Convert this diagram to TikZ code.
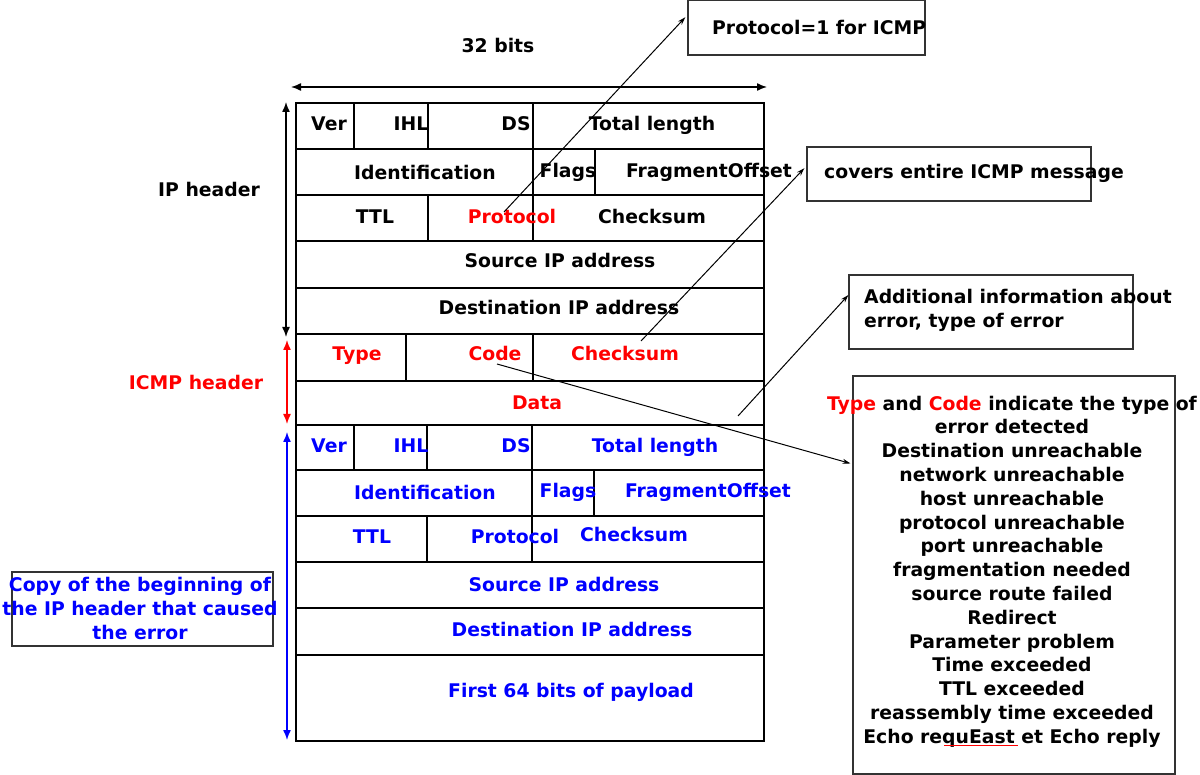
\documentclass[tikz,border=0pt]{standalone}
\usepackage{fontspec}
\setmainfont{DejaVu Sans}
\usetikzlibrary{arrows.meta}

\newcommand{\lblfont}{\fontsize{18.8}{23.8}\selectfont\bfseries}

\tikzset{
  cell/.style={font=\lblfont, inner sep=0pt, text height=13.7pt, text depth=0pt},
  note/.style={font=\lblfont, inner sep=0pt, align=center},
  notebox/.style={draw=black!80, line width=1.2pt, inner sep=0pt},
  grid/.style={line width=1.8pt, line cap=rect},
  divider/.style={line width=1.4pt},
  pointer/.style={line width=1pt, -{Stealth[length=8pt,width=5pt]}},
  span/.style={line width=1.4pt, {Latex[length=10pt,width=8pt]}-{Latex[length=10pt,width=8pt]}}
}

\begin{document}
\begin{tikzpicture}[x=1pt,y=-1pt]
\useasboundingbox (0,0) rectangle (1200,775);

% table
\foreach \yy in {149,195,241,288,334,381,425,470,516,562,608,655}
  \draw[grid] (296,\yy) -- (764,\yy);
\draw[grid] (296,103) rectangle (764,741);
\foreach \xx/\ya/\yb in {354/103/149, 428/103/149, 533/103/149,
    533/149/195, 595/149/195, 428/195/241, 533/195/241,
    406/334/381, 533/334/381,
    354/425/470, 427/425/470, 532/425/470,
    532/470/516, 594/470/516, 427/516/562, 532/516/562}
  \draw[divider] (\xx,\ya) -- (\xx,\yb);

% IP header
\node[cell] (ver) at (329,124) {Ver};
\node[cell] (ihl) at (411,124) {IHL};
\node[cell] (ds) at (516,124) {DS};
\node[cell] (totlen) at (652,124) {Total length};
\node[cell] (ident) at (425,173) {Identification};
\node[cell] (flags) at (568,171) {Flags};
\node[cell] (fragoff) at (709,171) {FragmentOffset};
\node[cell] (ttl) at (375,217) {TTL};
\node[cell, red] (proto) at (512,217) {Protocol};
\node[cell] (hcsum) at (652,217) {Checksum};
\node[cell] (srcip) at (560,261) {Source IP address};
\node[cell] (dstip) at (559,308) {Destination IP address};

% ICMP header
\node[cell, red] (type) at (357,354) {Type};
\node[cell, red] (code) at (495,354) {Code};
\node[cell, red] (csum) at (625,354) {Checksum};
\node[cell, red] (data) at (537,403) {Data};

% copy of the original IP header
\node[cell, blue] (cver) at (329,446) {Ver};
\node[cell, blue] (cihl) at (411,446) {IHL};
\node[cell, blue] (cds) at (516,446) {DS};
\node[cell, blue] (ctotlen) at (655,446) {Total length};
\node[cell, blue] (cident) at (425,493) {Identification};
\node[cell, blue] (cflags) at (568,491) {Flags};
\node[cell, blue] (cfragoff) at (708,491) {FragmentOffset};
\node[cell, blue] (cttl) at (372,537) {TTL};
\node[cell, blue] (cproto) at (515,537) {Protocol};
\node[cell, blue] (ccsum) at (634,535) {Checksum};
\node[cell, blue] (csrcip) at (564,585) {Source IP address};
\node[cell, blue] (cdstip) at (572,630) {Destination IP address};
\node[cell, blue] (payload) at (571,691) {First 64 bits of payload};

% side labels
\node[cell] (bits) at (498,46) {32 bits};
\node[cell] (iphdr) at (209,190) {IP header};
\node[cell, red] (icmphdr) at (196,383) {ICMP header};

\coordinate (bitsL) at (291,87);
\coordinate (bitsR) at (767,87);
\draw[span] (bitsL) -- (bitsR);
\coordinate (ipTop) at (286,102);
\coordinate (ipBot) at (286,337);
\draw[span] (ipTop) -- (ipBot);
\coordinate (icmpTop) at (287,340);
\coordinate (icmpBot) at (287,424);
\draw[span, red] (icmpTop) -- (icmpBot);
\coordinate (copyTop) at (287,432);
\coordinate (copyBot) at (287,740);
\draw[span, blue] (copyTop) -- (copyBot);

% note boxes
\node[notebox, minimum width=237pt, minimum height=55pt] (protobox) at (806.5,27.5) {};
\node[cell, anchor=west] (prototxt) at (712,28) {Protocol=1 for ICMP};

\node[notebox, minimum width=284pt, minimum height=54pt] (coverbox) at (949,174) {};
\node[cell, anchor=west] (covertxt) at (824,172) {covers entire ICMP message};

\node[notebox, minimum width=284pt, minimum height=74pt] (infobox) at (991,312) {};
\node[note, align=left, anchor=west] (infotxt) at (864,310)
  {Additional information about\\error, type of error};

\node[notebox, minimum width=322pt, minimum height=398pt] (typebox) at (1014,575) {};
\node[note] (typetxt) at (1012,571.5)
  {\textcolor{red}{Type} and \textcolor{red}{Code} indicate the type of\\
   error detected\\
   Destination unreachable\\
   network unreachable\\
   host unreachable\\
   protocol unreachable\\
   port unreachable\\
   fragmentation needed\\
   source route failed\\
   Redirect\\
   Parameter problem\\
   Time exceeded\\
   TTL exceeded\\
   reassembly time exceeded\\
   Echo requEast et Echo reply};
\draw[red, line width=0.9pt] (944,745) -- (1018,745);

\node[notebox, minimum width=261pt, minimum height=74pt] (copybox) at (142.5,609) {};
\node[note, blue] (copytxt) at (140,608.5)
  {Copy of the beginning of\\the IP header that caused\\the error};

% pointers
\coordinate (protoTail) at (504,212);
\draw[pointer, shorten >=3pt] (protoTail) -- ([yshift=12.5pt]protobox.west);
\coordinate (sumTail) at (641,341);
\draw[pointer, shorten >=3pt] (sumTail) -- ([yshift=8pt]coverbox.west);
\coordinate (dataTail) at (738,416);
\draw[pointer] (dataTail) -- ([yshift=17pt]infobox.west);
\coordinate (codeTail) at (497,364);
\draw[pointer, shorten >=2pt] (codeTail) -- ([yshift=111pt]typebox.west);
\end{tikzpicture}
\end{document}
